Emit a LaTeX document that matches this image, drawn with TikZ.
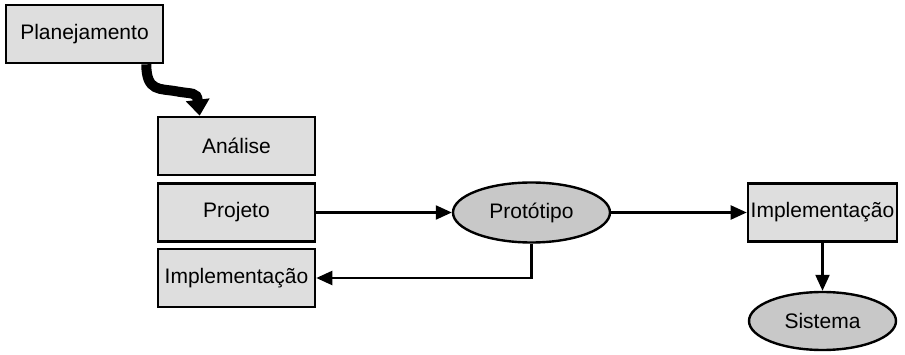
\documentclass[tikz,border=0pt]{standalone}
\usepackage{fontspec}
\setmainfont{Liberation Sans}
\usetikzlibrary{arrows.meta,shapes.geometric,calc}
\definecolor{boxfill}{HTML}{DEDEDE}
\definecolor{ellfill}{HTML}{C8C8C8}
\begin{document}
\begin{tikzpicture}[x=1pt,y=-1pt,
  box/.style={draw=black,line width=2.6pt,fill=boxfill,rectangle,minimum width=157pt,minimum height=58pt,inner sep=0pt,font=\fontsize{21}{25}\selectfont},
  ell/.style={draw=black,line width=2.4pt,fill=ellfill,ellipse,inner sep=0pt,font=\fontsize{21}{25}\selectfont},
  conn/.style={draw=black,line width=2.2pt,-{Triangle[length=16pt,width=14pt]}}]
\useasboundingbox (0,0) rectangle (905,355);
\node[box] (plan) at (84.5,34) {Planejamento};
\node[box] (anal) at (236.5,146) {Análise};
\node[box] (proj) at (236.5,212.5) {Projeto};
\node[box] (impa) at (236.5,278) {Implementação};
\node[ell,minimum width=157pt,minimum height=60pt] (prot) at (531.5,212.5) {Protótipo};
\node[box,minimum width=149pt] (impb) at (822.5,212.5) {Implementação};
\node[ell,minimum width=147pt,minimum height=58pt] (sist) at (822.5,321) {Sistema};
\coordinate (ws) at ($(plan.south east)+(-18,0)$);
\coordinate (we) at ($(anal.north west)+(43,0)$);
\draw[line width=10pt,-{Triangle[length=16pt,width=23pt]}] (ws) .. controls ($(ws)+(0,28)$) and ($(ws)+(14,24)$) .. ($(ws)+(30,27)$) .. controls ($(ws)+(46,30)$) and ($(we)+(-3,-24)$) .. (we);
\draw[conn] (proj.east) -- (prot.west);
\draw[conn] (prot.east) -- (impb.west);
\draw[conn] (prot.south) |- (impa.east);
\draw[conn] (impb.south) -- (sist.north);
\end{tikzpicture}
\end{document}
